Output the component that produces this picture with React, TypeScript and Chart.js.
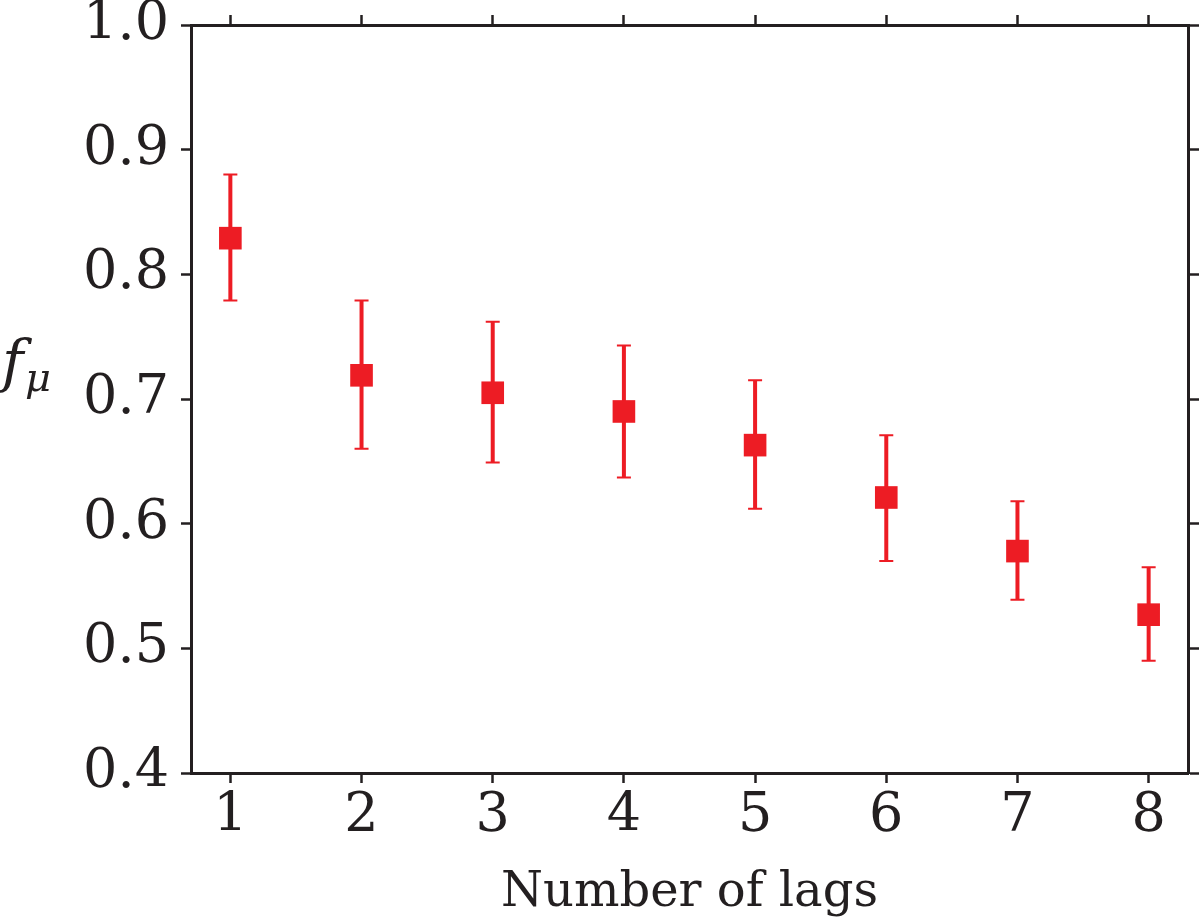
import { useEffect, useRef } from "react";
import { Chart, registerables, Plugin } from "chart.js";

Chart.register(...registerables);

// number of lags on the x axis
const lags = [1, 2, 3, 4, 5, 6, 7, 8];
// f_mu estimates and the ends of their error bars
const fMu = [0.829, 0.719, 0.705, 0.69, 0.663, 0.621, 0.578, 0.527];
const errLow = [0.779, 0.66, 0.649, 0.637, 0.612, 0.57, 0.539, 0.49];
const errHigh = [0.88, 0.779, 0.762, 0.743, 0.715, 0.671, 0.618, 0.565];
const yTicks = [0.4, 0.5, 0.6, 0.7, 0.8, 0.9, 1.0];

const RED = "rgb(237,28,36)";
const INK = "#231f20";
const FONT = "'DejaVu Serif', serif";

const errorBars: Plugin<"scatter"> = {
  id: "errorBars",
  beforeDatasetsDraw(chart) {
    const { ctx } = chart;
    const xs = chart.scales.x;
    const ys = chart.scales.y;
    ctx.save();
    ctx.strokeStyle = RED;
    lags.forEach((lag, i) => {
      const px = xs.getPixelForValue(lag);
      const top = ys.getPixelForValue(errHigh[i]);
      const bot = ys.getPixelForValue(errLow[i]);
      ctx.lineWidth = 4;
      ctx.beginPath();
      ctx.moveTo(px, top);
      ctx.lineTo(px, bot);
      ctx.stroke();
      ctx.lineWidth = 2;
      ctx.beginPath();
      ctx.moveTo(px - 7, top);
      ctx.lineTo(px + 7, top);
      ctx.moveTo(px - 7, bot);
      ctx.lineTo(px + 7, bot);
      ctx.stroke();
    });
    ctx.restore();
  },
};

const yLabel: Plugin<"scatter"> = {
  id: "yLabel",
  afterDraw(chart) {
    const { ctx } = chart;
    ctx.save();
    ctx.fillStyle = INK;
    ctx.textBaseline = "alphabetic";
    ctx.textAlign = "left";
    ctx.font = `italic 58px ${FONT}`;
    ctx.fillText("f", 2, 381);
    ctx.font = `italic 40px ${FONT}`;
    ctx.fillText("μ", 25, 391);
    ctx.restore();
  },
};

const tickGrid = {
  drawOnChartArea: false,
  drawTicks: true,
  tickLength: 10,
  tickColor: INK,
  tickWidth: 2.5,
};
const border = { display: true, color: INK, width: 3 };

const noPadding = () => ({ left: 0, right: 0, top: 0, bottom: 0 });

export default function App() {
  const canvasRef = useRef<HTMLCanvasElement | null>(null);
  const chartRef = useRef<Chart | null>(null);

  useEffect(() => {
    document.body.style.margin = "0";
    document.body.style.overflow = "hidden";
    if (!canvasRef.current) return;
    if (chartRef.current) chartRef.current.destroy();

    const setX = (scale: any) => {
      scale.ticks = lags.map((v) => ({ value: v }));
    };
    const setY = (scale: any) => {
      scale.ticks = yTicks.map((v) => ({ value: v }));
    };
    const fitH = (h: number) => (s: any) => {
      s.height = h;
      s.paddingLeft = 0;
      s.paddingRight = 0;
      s.getPadding = noPadding;
    };
    const fitW = (w: number) => (s: any) => {
      s.width = w;
      s.paddingTop = 0;
      s.paddingBottom = 0;
      s.getPadding = noPadding;
    };

    chartRef.current = new Chart(canvasRef.current, {
      type: "scatter",
      data: {
        datasets: [
          {
            data: lags.map((l, i) => ({ x: l, y: fMu[i] })),
            pointStyle: "rect",
            pointRadius: 16,
            pointHoverRadius: 16,
            pointBorderWidth: 0,
            backgroundColor: RED,
            borderColor: RED,
            showLine: false,
          },
        ],
      },
      options: {
        animation: false,
        responsive: true,
        maintainAspectRatio: false,
        layout: { padding: 0, autoPadding: false },
        plugins: { legend: { display: false }, tooltip: { enabled: false } },
        scales: {
          x: {
            type: "linear",
            position: "bottom",
            min: 0.7,
            max: 8.3,
            afterBuildTicks: setX,
            afterFit: fitH(150),
            grid: tickGrid,
            border,
            ticks: {
              color: INK,
              padding: 2,
              font: { family: FONT, size: 54 },
              callback: (v: any) => String(v),
            },
            title: {
              display: true,
              text: "Number of lags",
              color: INK,
              font: { family: FONT, size: 48, lineHeight: 1.2 },
              padding: { top: 0, bottom: 1 },
            },
          },
          x2: {
            type: "linear",
            position: "top",
            min: 0.7,
            max: 8.3,
            afterBuildTicks: setX,
            afterFit: fitH(25),
            grid: tickGrid,
            border,
            ticks: { display: false },
          },
          y: {
            type: "linear",
            position: "left",
            min: 0.4,
            max: 1.0,
            afterBuildTicks: setY,
            afterFit: fitW(191),
            grid: tickGrid,
            border,
            ticks: {
              color: INK,
              padding: 12,
              font: { family: FONT, size: 54 },
              callback: (v: any) => Number(v).toFixed(1),
            },
          },
          y2: {
            type: "linear",
            position: "right",
            min: 0.4,
            max: 1.0,
            afterBuildTicks: setY,
            afterFit: fitW(12),
            grid: { ...tickGrid, tickLength: 11 },
            border,
            ticks: { display: false },
          },
        },
      },
      plugins: [errorBars, yLabel],
    });

    return () => {
      if (chartRef.current) {
        chartRef.current.destroy();
        chartRef.current = null;
      }
    };
  }, []);

  return (
    <div style={{ width: 1200, height: 923, position: "relative" }}>
      <canvas ref={canvasRef} style={{ display: "block" }} />
    </div>
  );
}
